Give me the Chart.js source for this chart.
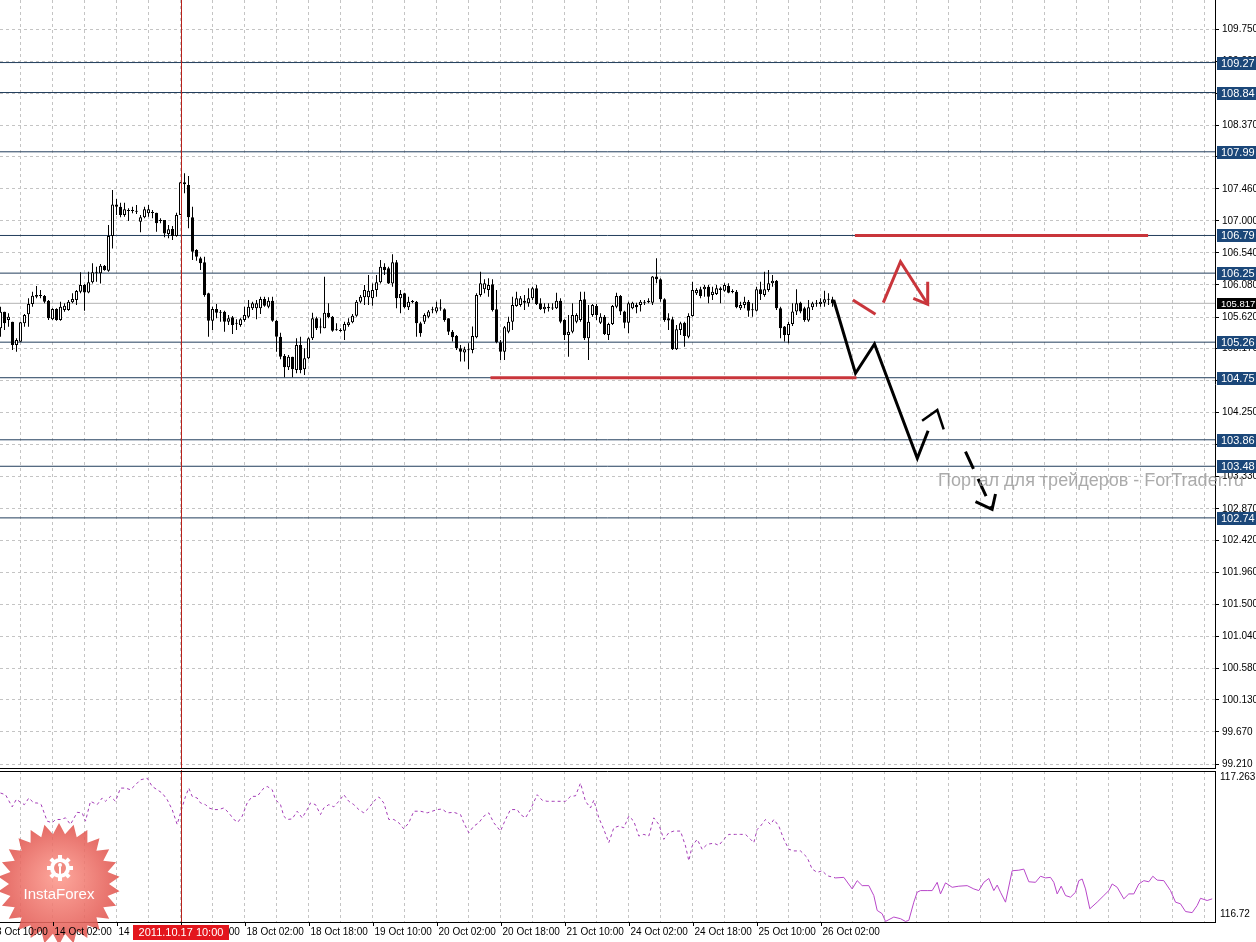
<!DOCTYPE html>
<html>
<head>
<meta charset="utf-8">
<title>USDJPY H1</title>
<script src="https://cdn.jsdelivr.net/npm/chart.js@4/dist/chart.umd.min.js"></script>
<style>
  html, body { margin: 0; padding: 0; background: #fff; overflow: hidden; }
  #wrap { position: relative; width: 1256px; height: 942px; }
  canvas { position: absolute; left: 0; }
  #main { top: 0; }
  #sub { top: 770px; }
</style>
</head>
<body>
<div id="wrap">
  <canvas id="main" width="1256" height="770"></canvas>
  <canvas id="sub" width="1256" height="172"></canvas>
</div>
<script>
// hourly candles, bar 0 = left edge of the window
const open = [
  105.458,105.697,105.578,105.554,105.219,105.267,105.530,105.659,105.807,105.912,
  105.926,105.922,105.855,105.587,105.735,105.578,105.721,105.721,105.831,105.864,
  105.984,106.080,105.974,106.118,106.261,106.247,106.357,106.285,106.782,107.236,
  107.203,107.083,107.145,107.141,107.145,106.988,107.050,107.107,107.117,107.117,
  107.002,107.012,106.811,106.883,106.782,107.083,107.552,107.513,107.050,106.581,
  106.462,106.405,105.960,105.568,105.735,105.688,105.697,105.554,105.616,105.530,
  105.506,105.578,105.625,105.745,105.745,105.745,105.879,105.769,105.855,105.568,
  105.339,105.061,104.899,105.052,104.861,105.219,104.870,105.028,105.315,105.602,
  105.477,105.458,105.683,105.625,105.434,105.425,105.425,105.506,105.544,105.640,
  105.840,105.903,105.903,105.888,106.008,106.118,106.342,106.319,106.103,106.405,
  105.888,105.960,105.759,105.840,105.840,
  105.530,105.554,105.626,105.722,105.698,105.746,105.731,105.602,105.411,105.349,
  105.172,105.110,105.148,105.148,105.330,105.937,106.018,106.008,106.090,105.731,
  105.258,105.124,105.411,105.554,105.779,105.793,105.855,105.817,105.889,106.032,
  105.817,105.731,105.769,105.746,105.746,105.855,105.578,105.363,105.411,105.554,
  105.578,105.875,105.315,105.650,105.779,105.540,105.626,105.363,105.521,105.769,
  105.922,105.698,105.540,105.746,105.793,105.793,105.832,105.832,105.827,106.200,
  106.161,105.875,105.602,105.588,105.158,105.435,105.540,105.339,105.636,105.961,
  106.018,106.018,106.056,105.937,105.951,106.008,105.999,106.066,105.984,105.984,
  105.746,105.793,105.841,105.722,105.712,106.018,105.937,106.008,106.104,106.142,
  105.746,105.483,105.363,105.521,105.698,105.827,105.746,105.569,105.760,105.817,
  105.808,105.827,105.875,105.875
];
const high = [
  105.769,105.697,105.673,105.554,105.315,105.554,105.664,105.888,105.984,106.065,
  106.008,105.936,105.864,105.745,105.745,105.840,105.817,105.864,105.960,106.008,
  106.261,106.094,106.271,106.390,106.342,106.381,106.366,106.940,107.442,107.313,
  107.260,107.260,107.179,107.203,107.227,107.083,107.203,107.227,107.155,107.117,
  107.036,107.012,106.940,106.926,107.117,107.552,107.681,107.643,107.203,106.591,
  106.486,106.486,105.970,105.769,105.807,105.721,105.711,105.649,105.635,105.587,
  105.602,105.769,105.864,105.840,105.864,105.912,105.912,105.903,105.912,105.578,
  105.396,105.090,105.076,105.052,105.315,105.339,105.171,105.329,105.683,105.625,
  105.602,106.199,105.817,105.635,105.530,105.458,105.554,105.602,105.664,105.864,
  105.936,106.080,106.223,106.103,106.223,106.438,106.390,106.342,106.519,106.438,
  106.008,105.970,105.912,105.864,105.850,
  105.554,105.674,105.722,105.769,105.841,105.875,105.746,105.602,105.435,105.363,
  105.220,105.196,105.244,105.483,105.961,106.271,106.161,106.176,106.161,106.008,
  105.290,105.492,105.626,105.913,105.984,105.922,105.937,106.032,106.056,106.080,
  105.889,105.817,105.817,105.817,105.970,105.889,105.588,105.650,105.817,105.674,
  105.984,105.984,105.793,105.808,105.808,105.674,105.650,105.540,105.793,105.970,
  105.937,105.712,105.841,105.841,105.827,105.865,105.865,105.889,106.209,106.462,
  106.176,105.889,105.674,105.626,105.507,105.554,105.554,105.674,106.128,106.032,
  106.056,106.080,106.080,106.056,106.080,106.056,106.104,106.104,106.018,106.008,
  105.841,105.913,105.865,105.817,106.056,106.128,106.271,106.295,106.223,106.152,
  105.769,105.492,105.554,105.817,106.018,105.841,105.769,105.865,105.841,105.865,
  105.889,105.999,105.961,105.913
];
const low = [
  105.339,105.434,105.482,105.147,105.124,105.267,105.482,105.482,105.769,105.888,
  105.888,105.817,105.578,105.578,105.568,105.568,105.697,105.711,105.817,105.793,
  105.960,105.711,105.960,106.103,106.127,106.103,106.285,106.271,106.605,107.083,
  107.050,107.059,106.997,107.107,107.098,106.835,107.036,107.059,107.036,106.844,
  106.964,106.763,106.749,106.725,106.773,107.083,107.394,106.892,106.438,106.428,
  106.295,105.912,105.339,105.434,105.602,105.554,105.410,105.506,105.377,105.434,
  105.482,105.554,105.602,105.721,105.587,105.664,105.769,105.745,105.554,105.124,
  105.014,104.756,104.861,104.756,104.813,104.813,104.789,105.014,105.291,105.434,
  105.386,105.458,105.602,105.410,105.425,105.410,105.291,105.482,105.530,105.625,
  105.817,105.793,105.793,105.783,105.912,106.103,106.223,106.094,106.056,105.745,
  105.673,105.745,105.721,105.817,105.339,
  105.339,105.521,105.602,105.674,105.674,105.712,105.554,105.363,105.268,105.148,
  104.981,104.981,104.871,105.100,105.315,105.913,105.961,105.913,105.698,105.244,
  105.005,105.005,105.387,105.435,105.769,105.769,105.722,105.769,105.865,105.793,
  105.722,105.674,105.698,105.722,105.736,105.530,105.291,105.052,105.387,105.530,
  105.554,105.291,105.005,105.626,105.578,105.521,105.363,105.291,105.507,105.746,
  105.650,105.459,105.387,105.731,105.674,105.698,105.793,105.817,105.793,106.104,
  105.841,105.554,105.435,105.148,105.148,105.363,105.196,105.315,105.626,105.937,
  105.889,105.913,105.817,105.865,105.937,105.817,105.984,105.961,105.961,105.746,
  105.722,105.746,105.626,105.626,105.698,105.865,105.913,105.984,106.056,105.722,
  105.315,105.268,105.244,105.492,105.650,105.674,105.554,105.554,105.722,105.769,
  105.769,105.769,105.793,105.769
];
const close = [
  105.697,105.530,105.625,105.219,105.291,105.544,105.649,105.807,105.926,105.936,
  105.922,105.840,105.602,105.735,105.578,105.769,105.783,105.840,105.879,105.993,
  106.080,105.974,106.118,106.261,106.256,106.357,106.295,106.782,107.236,107.203,
  107.083,107.165,107.141,107.145,107.131,107.050,107.165,107.165,107.112,106.964,
  106.997,106.820,106.878,106.782,107.083,107.552,107.523,107.050,106.557,106.486,
  106.390,105.936,105.568,105.735,105.683,105.683,105.554,105.602,105.506,105.525,
  105.587,105.649,105.769,105.817,105.817,105.879,105.783,105.855,105.568,105.339,
  105.052,104.899,105.052,104.870,105.219,104.861,105.028,105.315,105.602,105.458,
  105.472,105.683,105.616,105.425,105.430,105.420,105.520,105.544,105.640,105.840,
  105.912,106.008,105.998,106.008,106.118,106.342,106.295,106.103,106.405,105.888,
  105.950,105.759,105.840,105.836,105.530,
  105.387,105.650,105.698,105.717,105.760,105.741,105.578,105.411,105.330,105.172,
  105.124,105.158,105.143,105.349,105.937,106.104,106.104,106.080,105.722,105.258,
  105.124,105.473,105.554,105.793,105.889,105.889,105.827,105.889,106.032,105.808,
  105.731,105.769,105.746,105.741,105.855,105.554,105.363,105.411,105.650,105.650,
  105.865,105.315,105.554,105.793,105.650,105.626,105.377,105.521,105.779,105.922,
  105.698,105.540,105.817,105.827,105.760,105.841,105.827,105.855,106.200,106.161,
  105.875,105.578,105.569,105.158,105.444,105.530,105.349,105.636,106.008,106.008,
  105.922,106.056,105.913,105.984,106.032,106.032,106.080,105.970,105.979,105.760,
  105.793,105.841,105.712,105.717,106.018,105.951,106.018,106.104,106.142,105.746,
  105.459,105.363,105.521,105.698,105.817,105.698,105.578,105.760,105.817,105.812,
  105.841,105.875,105.870,105.817
];

// horizontal levels and price axis
const levels = [109.27, 108.84, 107.99, 106.79, 106.25, 105.26, 104.75, 103.86, 103.48, 102.74];
const bidPrice = 105.817;
const priceTicks = [109.75, 109.29, 108.83, 108.37, 107.92, 107.46, 107.00, 106.54, 106.08, 105.62,
  105.17, 104.71, 104.25, 103.79, 103.33, 102.87, 102.42, 101.96, 101.50, 101.04,
  100.58, 100.13, 99.67, 99.21];

// time axis (bar index -> label)
const timeTickBars = [-3, 13, 29, 45, 61, 77, 93, 109, 125, 141, 157, 173, 189, 205];
const timeTickLabels = ['13 Oct 10:00', '14 Oct 02:00', '14 Oct 18:00', '17 Oct 10:00', '18 Oct 02:00',
  '18 Oct 18:00', '19 Oct 10:00', '20 Oct 02:00', '20 Oct 18:00', '21 Oct 10:00', '24 Oct 02:00',
  '24 Oct 18:00', '25 Oct 10:00', '26 Oct 02:00'];
const cursorBar = 45;
const cursorLabel = '2011.10.17 10:00';

// hand drawn forecast, [bar, price]
const redTop = [[213.6, 106.79], [286.9, 106.79]];
const redBottom = [[122.5, 104.75], [214, 104.75]];
const redDash = [[213.1, 105.864], [218.75, 105.659]];
const redArrow = [[220.7, 105.826], [225, 106.414], [231.8, 105.803]];
const redHead = [[228.2, 105.889], [231.8, 105.803], [231.8, 106.127]];
const blackPath = [[208.3, 105.864], [213.75, 104.813], [218.5, 105.233], [229.2, 103.594], [231.9, 103.99]];
const blackHat = [[230.4, 104.133], [234.2, 104.287], [235.8, 104.01]];
const blackDown = [[241.25, 103.689], [247.9, 102.863]];
const blackHead = [[243.75, 102.972], [247.9, 102.863], [248.75, 103.082]];

// lower window indicator
const indX = [0,1.25,2.92,4,5.17,6,7.08,8.33,9.17,10.17,
  11.67,12.92,13.75,15,16.25,17.5,19.17,20.42,21.25,22.5,
  24.17,25.42,26.25,27.5,28.75,30,31.25,32.5,33.75,35,
  36.67,37.92,39.17,40.42,41.67,42.92,44.17,45,46.25,47.08,
  47.92,49.17,50,51.25,52.08,53.33,54.58,55.83,57.08,58.33,
  59.33,60.42,61.67,62.92,64.17,65.83,66.67,67.92,68.75,70,
  70.83,71.67,72.92,74.17,75.42,76.67,77.5,78.75,80,80.83,
  82.08,83.33,84.58,85.83,87.08,88.33,89.58,90.83,92.08,93.33,
  94.58,95.83,97.08,98.33,99.58,100.83,102.08,103.33,105,106.67,
  107.92,109.17,110.42,111.67,113.33,115,115.83,117.08,118.33,119.58,
  120.83,122.08,123.33,125,126.25,127.5,129.17,130,131.25,132.5,
  134.17,135.42,136.67,138.33,140,141.25,142.5,143.75,145,146.25,
  147.5,148.33,149.58,150.83,152.08,153.33,154.58,155.83,157.08,158.33,
  159.58,160.83,162.08,163.33,164.58,165.83,167.08,168.33,170,171.25,
  172.08,172.92,174.17,175.42,176.67,178.33,179.58,180.83,182.08,183.75,
  185,186.25,187.5,188.33,189.17,190,191.25,192.5,193.33,194.58,
  195.83,197.08,198.33,200,201.67,202.92,204.17,205.42,206.67,208.75,
  210.83,212.92,214.17,215.42,217.08,218.33,219.17,220.42,221.25,223.33,
  225,226.25,227.08,228.33,229.17,230,231.67,232.92,234.17,235,
  236.25,237.92,239.58,241.67,243.33,244.58,245.83,247.08,248.33,249.17,
  250,251.25,252.92,254.58,255.83,257.08,258.75,260,261.25,262.5,
  263.33,264.17,265.17,266.25,267.5,268.75,269.58,270.42,271.25,272.33,
  274.17,275.83,277.08,277.92,279.17,280.83,282.08,283.33,284.58,285.83,
  287.08,288.08,289.17,290.83,292.5,293.75,295,296.25,297.92,299.17,
  300,301.67,302.92];
const indVal = [117.183,117.177,117.133,117.161,117.147,117.141,117.165,117.147,117.147,117.141,
  117.081,117.075,117.087,117.087,117.093,117.069,117.113,117.111,117.081,117.153,
  117.141,117.165,117.153,117.171,117.153,117.201,117.201,117.195,117.213,117.231,
  117.237,117.207,117.195,117.183,117.159,117.123,117.069,117.111,117.171,117.201,
  117.171,117.165,117.147,117.141,117.129,117.123,117.123,117.129,117.111,117.087,
  117.077,117.099,117.147,117.171,117.171,117.201,117.207,117.195,117.159,117.141,
  117.099,117.087,117.089,117.117,117.093,117.123,117.147,117.141,117.105,117.129,
  117.141,117.133,117.153,117.177,117.153,117.141,117.123,117.111,117.129,117.153,
  117.169,117.147,117.087,117.087,117.075,117.053,117.075,117.117,117.117,117.111,
  117.117,117.123,117.125,117.111,117.113,117.105,117.075,117.039,117.063,117.075,
  117.099,117.111,117.075,117.045,117.087,117.123,117.123,117.105,117.093,117.123,
  117.177,117.157,117.153,117.153,117.153,117.153,117.171,117.173,117.219,117.153,
  117.129,117.157,117.093,117.051,117.003,117.057,117.063,117.057,117.099,117.081,
  117.027,117.033,117.027,117.093,117.069,117.015,117.039,117.045,117.045,116.991,
  116.937,116.991,117.015,116.979,116.997,117.001,116.993,117.015,117.033,117.033,
  117.033,117.033,117.015,117.003,117.051,117.063,117.087,117.069,117.087,117.063,
  117.015,116.979,116.973,116.973,116.949,116.907,116.895,116.901,116.883,116.875,
  116.877,116.835,116.865,116.847,116.847,116.811,116.757,116.745,116.717,116.733,
  116.727,116.717,116.721,116.787,116.823,116.829,116.829,116.829,116.859,116.817,
  116.857,116.841,116.845,116.847,116.835,116.829,116.859,116.873,116.829,116.849,
  116.823,116.787,116.901,116.903,116.907,116.861,116.859,116.881,116.875,116.877,
  116.859,116.817,116.845,116.811,116.805,116.823,116.865,116.871,116.835,116.763,
  116.787,116.811,116.829,116.853,116.841,116.799,116.817,116.817,116.853,116.865,
  116.861,116.881,116.867,116.865,116.829,116.787,116.781,116.753,116.749,116.775,
  116.801,116.793,116.799];
const indSolidFrom = 208.75;
const indMax = 117.263, indMin = 116.72;

// ---- layout ----
const xMin = -0.125, xMax = 303.625;
const yMin = 99.153, yMax = 110.167;
const gridColor = '#c4c4c4';
const fontFamily = '"Liberation Sans", Arial, sans-serif';

function gridTicks(scale) {
  const t = [];
  for (let v = 5; v <= xMax; v += 8) t.push({ value: v });
  scale.ticks = t;
}

function lineDs(pts, color, width, dash, order) {
  return {
    type: 'line',
    data: pts.map(p => ({ x: p[0], y: p[1] })),
    borderColor: color,
    borderWidth: width,
    borderDash: dash || [],
    pointRadius: 0,
    fill: false,
    tension: 0,
    order: order,
    borderCapStyle: 'butt',
    borderJoinStyle: 'miter'
  };
}

function drawCursor(chart, y0, y1) {
  const ctx = chart.ctx;
  const px = Math.round(chart.scales.x.getPixelForValue(cursorBar)) + 0.5;
  ctx.save();
  ctx.strokeStyle = '#b8221c';
  ctx.lineWidth = 1;
  ctx.beginPath();
  ctx.moveTo(px, y0);
  ctx.lineTo(px, y1);
  ctx.stroke();
  ctx.restore();
}

const wickData = open.map((o, i) => ({ x: i, y: [low[i], high[i]] }));
const bodyData = open.map((o, i) => ({ x: i, y: [o, close[i]] }));
const bodyFill = open.map((o, i) => close[i] >= o ? '#ffffff' : '#000000');

const mainDecor = {
  id: 'mainDecor',
  afterDatasetsDraw(chart) {
    drawCursor(chart, chart.chartArea.top, chart.chartArea.bottom);
  },
  afterDraw(chart) {
    const ctx = chart.ctx, ys = chart.scales.y, a = chart.chartArea;
    ctx.save();
    ctx.textAlign = 'left';
    ctx.textBaseline = 'middle';
    levels.forEach(lv => {
      const py = Math.round(ys.getPixelForValue(lv));
      ctx.fillStyle = '#1b4779';
      ctx.fillRect(a.right + 2, py - 6, 41, 13);
      ctx.fillStyle = '#ffffff';
      ctx.font = '11px ' + fontFamily;
      ctx.fillText(lv.toFixed(2), a.right + 6, py + 1);
    });
    const pb = Math.round(ys.getPixelForValue(bidPrice));
    ctx.fillStyle = '#000000';
    ctx.fillRect(a.right + 2, pb - 5, 41, 11);
    ctx.fillStyle = '#ffffff';
    ctx.font = '9.5px ' + fontFamily;
    ctx.fillText(bidPrice.toFixed(3), a.right + 6, pb + 1);
    // watermark
    ctx.fillStyle = 'rgba(150,150,150,0.8)';
    ctx.font = '18px ' + fontFamily;
    ctx.fillText('Портал для трейдеров - ForTrader.ru', 938, 481);
    ctx.restore();
  }
};

new Chart(document.getElementById('main'), {
  type: 'bar',
  data: {
    datasets: [
      ...levels.map(lv => lineDs([[xMin, lv], [xMax, lv]], '#223e5c', 1, null, 9)),
      lineDs([[xMin, bidPrice], [xMax, bidPrice]], '#b4b4b4', 1, null, 10),
      {
        type: 'bar', data: wickData, backgroundColor: '#000000', borderWidth: 0,
        barThickness: 1, grouped: false, inflateAmount: 0, order: 4
      },
      {
        type: 'bar', data: bodyData, backgroundColor: bodyFill, borderColor: '#000000', borderWidth: 1,
        borderSkipped: false, barThickness: 3, grouped: false, inflateAmount: 0, minBarLength: 1, order: 3
      },
      lineDs(redTop, '#c9353b', 3, null, 1),
      lineDs(redBottom, '#c9353b', 3, null, 1),
      lineDs(redDash, '#c9353b', 3, null, 1),
      lineDs(redArrow, '#c9353b', 3, null, 1),
      lineDs(redHead, '#c9353b', 3, null, 1),
      lineDs(blackPath, '#000000', 3, null, 1),
      lineDs(blackHat, '#000000', 2.5, null, 1),
      lineDs(blackDown, '#000000', 3, [19, 11], 1),
      lineDs(blackHead, '#000000', 3, null, 1)
    ]
  },
  options: {
    responsive: false,
    animation: false,
    devicePixelRatio: 1,
    events: [],
    layout: { padding: { left: 0, right: 0, top: 0, bottom: 2 } },
    plugins: { legend: { display: false }, tooltip: { enabled: false } },
    scales: {
      x: {
        type: 'linear', min: xMin, max: xMax, offset: false,
        grid: { color: gridColor, drawTicks: false, offset: false },
        border: { display: true, color: '#000000', width: 1, dash: [3, 3] },
        ticks: { display: false },
        afterBuildTicks: gridTicks
      },
      y: {
        type: 'linear', position: 'right', min: yMin, max: yMax, beginAtZero: false,
        grid: { color: gridColor, drawTicks: true, tickLength: 4, tickColor: '#000000', tickBorderDash: [] },
        border: { display: true, color: '#000000', width: 1, dash: [3, 3] },
        ticks: {
          padding: 3, color: '#000000', autoSkip: false,
          font: { family: fontFamily, size: 10 },
          callback: v => Number(v).toFixed(3)
        },
        afterBuildTicks: s => { s.ticks = priceTicks.map(v => ({ value: v })); },
        afterFit: s => { s.width = 41; s.paddingTop = 0; s.paddingBottom = 0; }
      }
    }
  },
  plugins: [mainDecor]
});

// ---- lower window ----
function drawLogo(ctx, cx, cy) {
  const n = 26, ro = 61, ri = 50;
  ctx.save();
  ctx.beginPath();
  for (let k = 0; k < n * 2; k++) {
    const r = k % 2 ? ri : ro;
    const ang = -Math.PI / 2 + k * Math.PI / n;
    const px = cx + r * Math.cos(ang), py = cy + r * Math.sin(ang);
    if (k) ctx.lineTo(px, py); else ctx.moveTo(px, py);
  }
  ctx.closePath();
  const g = ctx.createRadialGradient(cx, cy - 8, 4, cx, cy, ro);
  g.addColorStop(0, '#fb968a');
  g.addColorStop(1, '#e0554f');
  ctx.globalAlpha = 0.88;
  ctx.fillStyle = g;
  ctx.fill();
  ctx.globalAlpha = 1;
  // gear icon
  const gx = cx + 1, gy = cy - 16;
  ctx.fillStyle = '#ffffff';
  for (let k = 0; k < 8; k++) {
    ctx.save();
    ctx.translate(gx, gy);
    ctx.rotate(k * Math.PI / 4);
    ctx.fillRect(-2, -13, 4, 5);
    ctx.restore();
  }
  ctx.beginPath();
  ctx.arc(gx, gy, 10, 0, Math.PI * 2);
  ctx.fill();
  ctx.fillStyle = '#f08a80';
  ctx.beginPath();
  ctx.arc(gx, gy, 6, 0, Math.PI * 2);
  ctx.fill();
  ctx.fillStyle = '#ffffff';
  ctx.beginPath();
  ctx.arc(gx, gy - 3, 2, 0, Math.PI * 2);
  ctx.fill();
  ctx.fillRect(gx - 1, gy - 1, 2, 8);
  ctx.font = '15px ' + fontFamily;
  ctx.textAlign = 'center';
  ctx.textBaseline = 'middle';
  ctx.fillText('InstaForex', cx, cy + 11);
  ctx.restore();
}

const subDecor = {
  id: 'subDecor',
  beforeDatasetsDraw(chart) {
    drawLogo(chart.ctx, 59, 114);
  },
  afterDatasetsDraw(chart) {
    drawCursor(chart, 0, chart.chartArea.bottom + 3);
  },
  afterDraw(chart) {
    const ctx = chart.ctx, xs = chart.scales.x, a = chart.chartArea;
    ctx.save();
    ctx.fillStyle = '#000000';
    ctx.strokeStyle = '#000000';
    ctx.lineWidth = 1;
    // top border of the window
    ctx.beginPath();
    ctx.moveTo(a.left, a.top + 0.5);
    ctx.lineTo(a.right, a.top + 0.5);
    ctx.stroke();
    ctx.textBaseline = 'middle';
    ctx.textAlign = 'left';
    ctx.font = '10px ' + fontFamily;
    ctx.fillText(indMax.toFixed(3), a.right + 5, a.top + 6);
    ctx.fillText(indMin.toFixed(2), a.right + 5, a.bottom - 8);
    timeTickBars.forEach((b, i) => {
      const px = Math.round(xs.getPixelForValue(b)) + 0.5;
      ctx.beginPath();
      ctx.moveTo(px, a.bottom);
      ctx.lineTo(px, a.bottom + 4);
      ctx.stroke();
      ctx.fillText(timeTickLabels[i], px + 1, a.bottom + 10);
    });
    // cursor date box
    const cx = Math.round(xs.getPixelForValue(cursorBar));
    ctx.fillStyle = '#e3161d';
    ctx.fillRect(cx - 48, a.bottom + 3, 96, 15);
    ctx.fillStyle = '#ffffff';
    ctx.font = '11px ' + fontFamily;
    ctx.textAlign = 'center';
    ctx.fillText(cursorLabel, cx, a.bottom + 11);
    ctx.restore();
  }
};

const indPts = indX.map((x, i) => ({ x: x, y: indVal[i] }));

new Chart(document.getElementById('sub'), {
  type: 'line',
  data: {
    datasets: [
      {
        data: indPts.filter(p => p.x <= indSolidFrom),
        borderColor: '#a43cb6', borderWidth: 1, borderDash: [3, 3],
        pointRadius: 0, fill: false, tension: 0
      },
      {
        data: indPts.filter(p => p.x >= indSolidFrom),
        borderColor: '#b847c9', borderWidth: 1,
        pointRadius: 0, fill: false, tension: 0
      }
    ]
  },
  options: {
    responsive: false,
    animation: false,
    devicePixelRatio: 1,
    events: [],
    layout: { padding: { left: 0, right: 0, top: 1, bottom: 0 } },
    plugins: { legend: { display: false }, tooltip: { enabled: false } },
    scales: {
      x: {
        type: 'linear', min: xMin, max: xMax, offset: false,
        grid: { color: gridColor, drawTicks: false },
        border: { display: true, color: '#000000', width: 1, dash: [3, 3] },
        ticks: { display: false },
        afterBuildTicks: gridTicks,
        afterFit: s => { s.height = 20; }
      },
      y: {
        type: 'linear', position: 'right', min: 116.715, max: indMax,
        grid: { display: false },
        border: { display: true, color: '#000000', width: 1 },
        ticks: { display: false },
        afterFit: s => { s.width = 41; s.paddingTop = 0; s.paddingBottom = 0; }
      }
    }
  },
  plugins: [subDecor]
});
</script>
</body>
</html>
